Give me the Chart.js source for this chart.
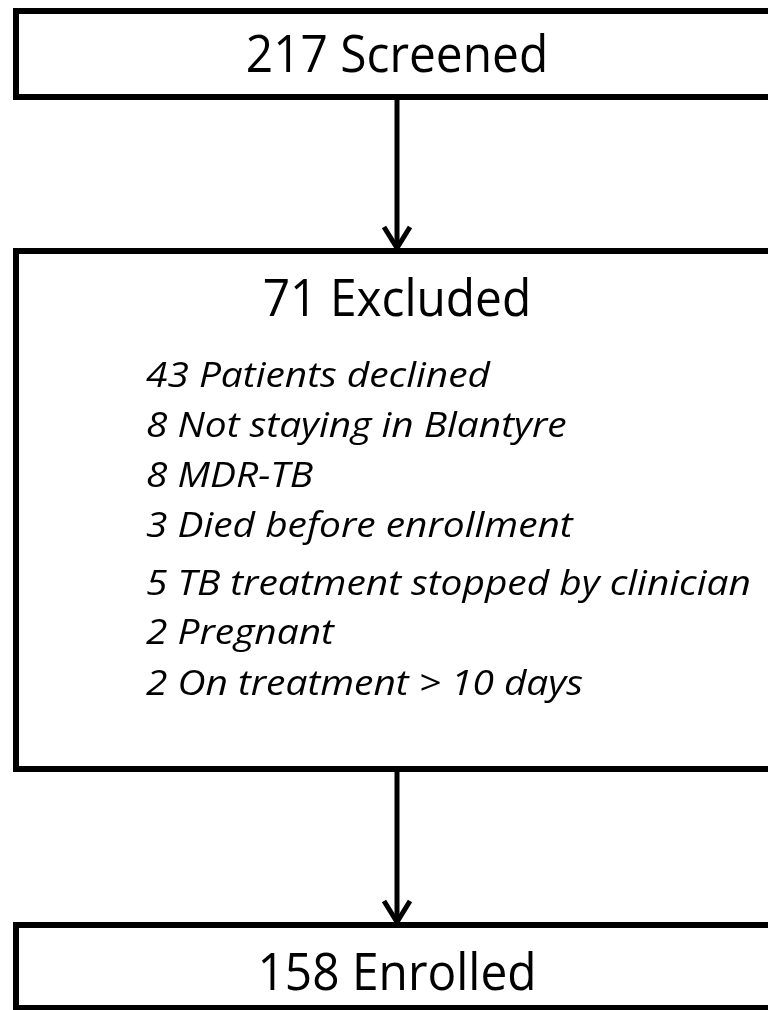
<!DOCTYPE html>
<html>
<head>
<meta charset="utf-8">
<script src="https://cdn.jsdelivr.net/npm/chart.js@4"></script>
<style>
  html, body { margin: 0; padding: 0; background: #fff; }
  #wrap { width: 768px; height: 1010px; }
</style>
</head>
<body>
<div id="wrap"><canvas id="flow"></canvas></div>
<script>
// flow data
var stageCounts = [217, 71, 158];
var stageNames = ["Screened", "Excluded", "Enrolled"];
var reasonCounts = [43, 8, 8, 3, 5, 2, 2];
var reasonNames = [
  "Patients declined",
  "Not staying in Blantyre",
  "MDR-TB",
  "Died before enrollment",
  "TB treatment stopped by clinician",
  "Pregnant",
  "On treatment > 10 days",
];

// layout (in scale units, 1 unit = 1px)
var boxTop = [11, 251, 925];
var boxBottom = [97, 769, 1008];
var boxLeft = 16;
var boxRight = 790;
var centerX = 397;
var titleBase = [72, 316, 990];
var reasonX = 146;
var reasonBase = [387, 437, 487, 537, 595, 644, 695];

// draw text squeezed/stretched horizontally
function drawText(ctx, txt, x, y, sx, align) {
  ctx.save();
  ctx.translate(x, y);
  ctx.scale(sx, 1);
  ctx.textAlign = align;
  ctx.fillText(txt, 0, 0);
  ctx.restore();
}

var flowPlugin = {
  id: "flow",
  afterDraw: function (chart) {
    var ctx = chart.ctx;
    var sx = chart.scales.x;
    var sy = chart.scales.y;
    var X = function (v) { return sx.getPixelForValue(v); };
    var Y = function (v) { return sy.getPixelForValue(v); };

    ctx.save();
    ctx.strokeStyle = "#000";
    ctx.fillStyle = "#000";
    ctx.lineWidth = 6;

    // boxes
    for (var i = 0; i < stageCounts.length; i++) {
      ctx.strokeRect(X(boxLeft), Y(boxTop[i]), X(boxRight) - X(boxLeft), Y(boxBottom[i]) - Y(boxTop[i]));
    }

    // arrows
    ctx.lineWidth = 5;
    for (var j = 0; j < stageCounts.length - 1; j++) {
      var y0 = Y(boxBottom[j]) + 3;
      var y1 = Y(boxTop[j + 1]) - 3;
      ctx.beginPath();
      ctx.moveTo(X(centerX), y0);
      ctx.lineTo(X(centerX), y1);
      ctx.stroke();
      ctx.beginPath();
      ctx.moveTo(X(centerX) - 13, y1 - 21);
      ctx.lineTo(X(centerX), y1);
      ctx.lineTo(X(centerX) + 13, y1 - 21);
      ctx.stroke();
    }

    // titles
    ctx.textBaseline = "alphabetic";
    ctx.font = "52px 'Open Sans', sans-serif";
    for (var k = 0; k < stageCounts.length; k++) {
      drawText(ctx, stageCounts[k] + " " + stageNames[k], X(centerX), Y(titleBase[k]), 0.92, "center");
    }

    // exclusion reasons
    ctx.font = "italic 35px 'Open Sans', sans-serif";
    for (var r = 0; r < reasonCounts.length; r++) {
      drawText(ctx, reasonCounts[r] + " " + reasonNames[r], X(reasonX), Y(reasonBase[r]), 1.11, "left");
    }
    ctx.restore();
  },
};

var ctxFlow = document.getElementById("flow").getContext("2d");

var chart = new Chart(ctxFlow, {
  type: "scatter",
  data: {
    datasets: [
      {
        label: "flow",
        data: [],
      },
    ],
  },
  options: {
    responsive: true,
    maintainAspectRatio: false,
    animation: false,
    layout: { padding: 0 },
    plugins: { legend: { display: false }, tooltip: { enabled: false } },
    scales: {
      x: { type: "linear", min: 0, max: 768, display: false },
      y: { type: "linear", min: 0, max: 1010, reverse: true, display: false },
    },
  },
  plugins: [flowPlugin],
});
</script>
</body>
</html>
